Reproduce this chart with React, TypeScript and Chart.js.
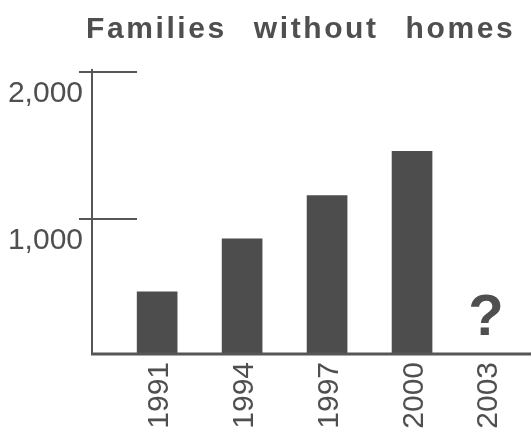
import React, { useEffect, useRef } from "react";
import { Chart, registerables } from "chart.js";

Chart.register(...registerables);

const titleText = "Families without homes";
const years = [1991, 1994, 1997, 2000, 2003];
const yearLabels = ["1991", "1994", "1997", "2000", "2003"];
const families: (number | null)[] = [505, 865, 1160, 1460, null];
const yTicks = [1000, 2000];
const missingMarker = "?";

const FONT = '"Liberation Sans", Arial, Helvetica, sans-serif';
const TEXT = "#4f4f4f";
const LINE = "#565656";
const BAR = "#4d4d4d";

const decorPlugin = {
  id: "decor",
  afterDatasetsDraw(chart: any) {
    const ctx = chart.ctx as CanvasRenderingContext2D;
    const { left, bottom } = chart.chartArea;
    const xs = chart.scales.x;
    const ys = chart.scales.y;
    ctx.save();
    ctx.strokeStyle = LINE;
    ctx.fillStyle = TEXT;

    // y axis line
    ctx.lineWidth = 2;
    ctx.beginPath();
    ctx.moveTo(left, ys.getPixelForValue(yTicks[yTicks.length - 1]) - 3);
    ctx.lineTo(left, bottom + 1);
    ctx.stroke();

    // y ticks and labels
    ctx.font = `30px ${FONT}`;
    ctx.textAlign = "right";
    ctx.textBaseline = "alphabetic";
    yTicks.forEach((v) => {
      const y = ys.getPixelForValue(v);
      ctx.beginPath();
      ctx.moveTo(left - 13, y);
      ctx.lineTo(left + 45, y);
      ctx.stroke();
      ctx.fillText(v.toLocaleString("en-US"), left - 9, y + 30);
    });

    // baseline
    ctx.lineWidth = 3;
    ctx.beginPath();
    ctx.moveTo(left - 1, bottom);
    ctx.lineTo(chart.width, bottom);
    ctx.stroke();

    // x labels (rotated)
    const maxX = chart.width - 45;
    years.forEach((yr, i) => {
      const px = Math.min(xs.getPixelForValue(yr), maxX);
      ctx.save();
      ctx.translate(px + 10.7, bottom + 8);
      ctx.rotate(-Math.PI / 2);
      ctx.font = `30px ${FONT}`;
      ctx.textAlign = "right";
      ctx.textBaseline = "alphabetic";
      ctx.fillText(yearLabels[i], 0, 0);
      ctx.restore();
      if (families[i] === null) {
        ctx.font = `bold 58px ${FONT}`;
        ctx.textAlign = "center";
        ctx.fillText(missingMarker, px, bottom - 19);
      }
    });

    // title
    ctx.font = `bold 30px ${FONT}`;
    ctx.textAlign = "left";
    (ctx as any).letterSpacing = "2.6px";
    (ctx as any).wordSpacing = "16px";
    ctx.fillText(titleText, 86, 38);
    ctx.restore();
  },
};

export default function App() {
  const ref = useRef<HTMLCanvasElement | null>(null);
  useEffect(() => {
    if (!ref.current) return;
    const chart = new Chart(ref.current, {
      type: "bar",
      data: {
        datasets: [
          {
            data: years.map((x, i) => ({ x, y: families[i] })) as any,
            backgroundColor: BAR,
            borderWidth: 0,
            barThickness: 40,
          },
        ],
      },
      options: {
        animation: false,
        responsive: false,
        layout: { padding: { left: 92, top: 72, right: 0, bottom: 75 } },
        plugins: { legend: { display: false }, tooltip: { enabled: false }, title: { display: false } },
        scales: {
          x: { type: "linear", min: 1988.7, max: 2004.2, offset: false, display: false },
          y: { type: "linear", min: 82, max: 2000, display: false },
        },
      },
      plugins: [decorPlugin],
    });
    return () => chart.destroy();
  }, []);
  return (
    <div style={{ position: "absolute", left: 0, top: 0, width: 531, height: 429, background: "#fff" }}>
      <canvas ref={ref} width={531} height={429} style={{ display: "block" }} />
    </div>
  );
}
